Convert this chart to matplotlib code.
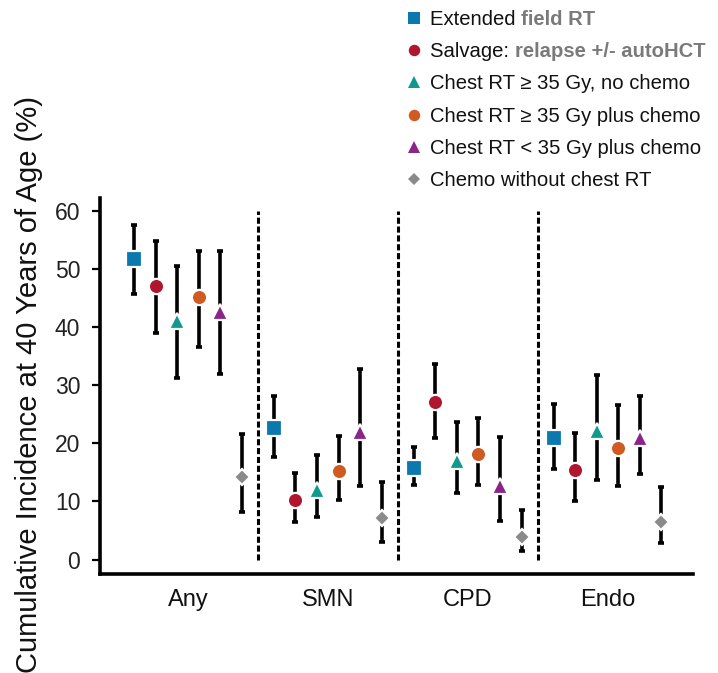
import matplotlib
matplotlib.use("Agg")
import matplotlib.pyplot as plt
from matplotlib.lines import Line2D
import numpy as np

plt.rcParams["font.family"] = ["Liberation Sans", "DejaVu Sans"]

groups = ["Any", "SMN", "CPD", "Endo"]

ext_rt = [51.7, 22.7, 15.8, 20.9]
ext_rt_lo = [45.7, 17.6, 12.8, 15.5]
ext_rt_hi = [57.5, 28.1, 19.4, 26.8]

salvage = [47.1, 10.2, 27.1, 15.4]
salvage_lo = [39.0, 6.5, 20.9, 10.0]
salvage_hi = [54.7, 14.9, 33.6, 21.8]

chest_hi_nochemo = [41.0, 11.9, 16.9, 22.1]
chest_hi_nochemo_lo = [31.3, 7.3, 11.4, 13.6]
chest_hi_nochemo_hi = [50.5, 17.9, 23.7, 31.8]

chest_hi_chemo = [45.1, 15.3, 18.2, 19.1]
chest_hi_chemo_lo = [36.5, 10.3, 12.8, 12.7]
chest_hi_chemo_hi = [53.1, 21.2, 24.3, 26.6]

chest_lo_chemo = [42.6, 21.9, 12.7, 20.9]
chest_lo_chemo_lo = [31.9, 12.7, 6.6, 14.7]
chest_lo_chemo_hi = [53.0, 32.8, 21.0, 28.1]

chemo_only = [14.2, 7.1, 3.8, 6.5]
chemo_only_lo = [8.1, 3.1, 1.5, 2.8]
chemo_only_hi = [21.6, 13.3, 8.5, 12.5]

# (black part, grey bold part)
labels = [
    ("Extended ", "field RT"),
    ("Salvage: ", "relapse +/- autoHCT"),
    ("Chest RT \u2265 35 Gy, no chemo", ""),
    ("Chest RT \u2265 35 Gy plus chemo", ""),
    ("Chest RT < 35 Gy plus chemo", ""),
    ("Chemo without chest RT", ""),
]

series = [
    (ext_rt, ext_rt_lo, ext_rt_hi, "s", "#0B78AE", 11),
    (salvage, salvage_lo, salvage_hi, "o", "#B0172F", 11),
    (chest_hi_nochemo, chest_hi_nochemo_lo, chest_hi_nochemo_hi, "^", "#0F9A8D", 11),
    (chest_hi_chemo, chest_hi_chemo_lo, chest_hi_chemo_hi, "o", "#CF5A22", 11),
    (chest_lo_chemo, chest_lo_chemo_lo, chest_lo_chemo_hi, "^", "#8B2488", 11),
    (chemo_only, chemo_only_lo, chemo_only_hi, "D", "#8A8A8A", 8.5),
]

fig = plt.figure(figsize=(7.18, 6.73), dpi=100)
ax = fig.add_axes([0.139, 0.147, 0.826, 0.559])

x_base = np.arange(len(groups))
step = 0.154
n = len(series)
for i, (est, lo, hi, mk, col, ms) in enumerate(series):
    x = x_base + (i - (n - 1) / 2) * step
    est = np.array(est)
    yerr = [est - np.array(lo), np.array(hi) - est]
    ax.errorbar(x, est, yerr=yerr, fmt="none", ecolor="black", elinewidth=2.6,
                capsize=2.5, capthick=2.6, zorder=2)
    ax.plot(x, est, linestyle="none", marker=mk, markersize=ms, color=col,
            markeredgecolor="white", markeredgewidth=1.6, zorder=3)

ax.vlines([0.5, 1.5, 2.5], 0, 60, colors="black", linewidth=2.2,
          linestyles=(0, (2.0, 0.9)), zorder=1)

ax.set_xlim(-0.63, 3.61)
ax.set_ylim(-2.5, 62.2)
ax.set_xticks(x_base)
ax.set_xticklabels(groups, fontsize=17, color="#111111")
ax.tick_params(axis="x", length=0, pad=11)
ax.set_yticks([0, 10, 20, 30, 40, 50, 60])
ax.tick_params(axis="y", length=6, width=1.6, pad=8, labelsize=16.5, labelcolor="#222222")
for side in ["top", "right"]:
    ax.spines[side].set_visible(False)
for side in ["left", "bottom"]:
    ax.spines[side].set_linewidth(2.6)

fig.text(0.041, 0.429, "Cumulative Incidence at 40 Years of Age (%)", rotation=90,
         ha="center", va="center", fontsize=21, color="#111111")

handles = [Line2D([], [], linestyle="none", marker=mk, color=col,
                  markersize=ms * 0.75, markeredgewidth=0)
           for (_, _, _, mk, col, ms) in series]
leg = fig.legend(handles, [a for a, _ in labels], loc="upper left",
                 bbox_to_anchor=(0.565, 0.985), frameon=False, fontsize=14.6,
                 handlelength=0.8, handletextpad=0.4, labelspacing=0.65,
                 borderpad=0, borderaxespad=0)
for txt, (_, extra) in zip(leg.get_texts(), labels):
    txt.set_color("#111111")
    if extra:
        fig.add_artist(plt.Annotation(extra, xy=(1, 0), xycoords=txt, va="bottom",
                                      ha="left", fontsize=14.6, fontweight="bold",
                                      color="#7a7a7a", zorder=10))

fig.savefig("out.png", dpi=100)
